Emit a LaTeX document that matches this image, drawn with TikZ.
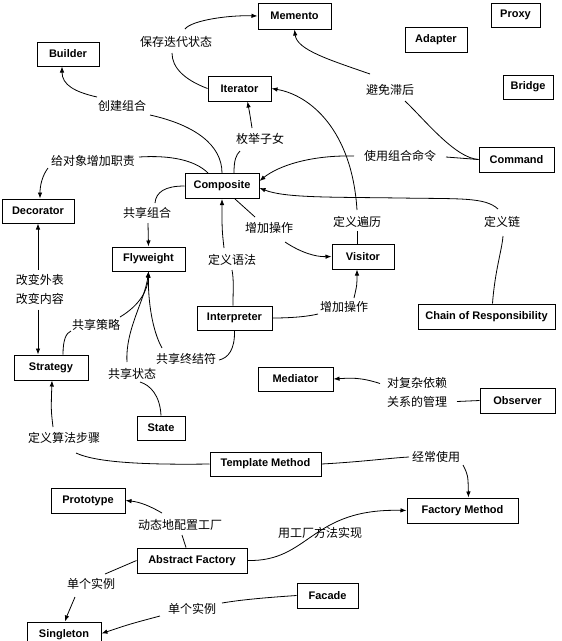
\documentclass[tikz,border=0pt]{standalone}
\usepackage{fontspec}
\newfontfamily\boxfont{Liberation Sans}
\newfontfamily\cjk{Noto Sans CJK SC}
\usetikzlibrary{arrows.meta,calc}
\tikzset{
  box/.style={draw, line width=1pt, minimum height=25pt, inner sep=1pt,
    font=\boxfont\bfseries\fontsize{11}{13}\selectfont},
  lbl/.style={font=\cjk\fontsize{12}{19}\selectfont, inner sep=1pt, align=center},
  con/.style={line width=0.8pt},
  arr/.style={con, -{Latex[length=6pt,width=4.5pt]}}
}
\begin{document}
\begin{tikzpicture}[x=1pt,y=-1pt]
\useasboundingbox (0,0) rectangle (562,641);
% boxes
\node[box, minimum width=73pt, minimum height=26pt] (Memento) at (294.5,16) {Memento};
\node[box, minimum width=49pt, minimum height=24pt] (Proxy) at (515.5,15) {Proxy};
\node[box, minimum width=62pt] (Adapter) at (436,39.5) {Adapter};
\node[box, minimum width=50pt, minimum height=24pt] (Bridge) at (528,87) {Bridge};
\node[box, minimum width=75pt] (Command) at (516.5,159.5) {Command};
\node[box, minimum width=62pt, minimum height=24pt] (Builder) at (68,54) {Builder};
\node[box, minimum width=63pt] (Iterator) at (239.5,88.5) {Iterator};
\node[box, minimum width=74pt] (Composite) at (222,186) {Composite};
\node[box, minimum width=72pt, minimum height=24pt] (Decorator) at (38,211) {Decorator};
\node[box, minimum width=73pt, minimum height=24pt] (Flyweight) at (148.5,259) {Flyweight};
\node[box, minimum width=75pt, minimum height=24pt] (Interpreter) at (234.5,318) {Interpreter};
\node[box, minimum width=74pt] (Strategy) at (51,367.5) {Strategy};
\node[box, minimum width=48pt, minimum height=24pt] (State) at (161,428) {State};
\node[box, minimum width=62pt] (Visitor) at (363,256.5) {Visitor};
\node[box, minimum width=137pt] (CoR) at (486.5,316.5) {Chain of Responsibility};
\node[box, minimum width=75pt, minimum height=24pt] (Mediator) at (295.5,379) {Mediator};
\node[box, minimum width=75pt] (Observer) at (517.5,400.5) {Observer};
\node[box, minimum width=111pt, minimum height=24pt] (Template) at (265.5,464) {Template Method};
\node[box, minimum width=74pt] (Prototype) at (88,500.5) {Prototype};
\node[box, minimum width=111pt] (FM) at (462.5,510.5) {Factory Method};
\node[box, minimum width=110pt] (AF) at (192,560.5) {Abstract Factory};
\node[box, minimum width=61pt] (Facade) at (327.5,595.5) {Facade};
\node[box, minimum width=74pt] (Singleton) at (64,634.5) {Singleton};
% labels
\node[lbl] (lsave) at (176,42) {保存迭代状态};
\node[lbl] (lbuild) at (122,106) {创建组合};
\node[lbl] (lenum) at (260,139) {枚举子女};
\node[lbl] (ldeco) at (93,161) {给对象增加职责};
\node[lbl] (lshare) at (147,213) {共享组合};
\node[lbl] (lchg) at (40,289.5) {改变外表\\改变内容};
\node[lbl] (lgram) at (232,260) {定义语法};
\node[lbl] (lstrat) at (96,325) {共享策略};
\node[lbl] (lterm) at (186,359) {共享终结符};
\node[lbl] (lstate) at (132,374) {共享状态};
\node[lbl] (lalgo) at (64,438) {定义算法步骤};
\node[lbl] (ladd1) at (269,228) {增加操作};
\node[lbl] (ltrav) at (357,222) {定义遍历};
\node[lbl] (ladd2) at (344,307) {增加操作};
\node[lbl] (lavoid) at (390,90) {避免滞后};
\node[lbl] (lcmd) at (400,156) {使用组合命令};
\node[lbl] (lchain) at (502,222) {定义链};
\node[lbl] (lobs) at (417,392.5) {对复杂依赖\\关系的管理};
\node[lbl] (loften) at (436,457) {经常使用};
\node[lbl] (ldyn) at (180,525) {动态地配置工厂};
\node[lbl] (lfm) at (320,533) {用工厂方法实现};
\node[lbl] (lsing1) at (91,584) {单个实例};
\node[lbl] (lsing2) at (192,609) {单个实例};
% connectors
% Iterator -> Memento
\draw[con] (Iterator.west) .. controls (185,80) and (172,68) .. ($(lsave)+(-4,11)$);
\draw[arr] ($(lsave)+(9,-13)$) .. controls (192,20) and (230,15) .. (Memento.west);
% Composite -> Builder
\draw[con] (Composite.north) .. controls (222,145) and (195,125) .. ($(lbuild)+(28,9)$);
\draw[arr] ($(lbuild)+(-25,-9)$) .. controls (75,92) and (62,85) .. ([xshift=-6pt]Builder.south);
% Composite -> Iterator
\draw[con] ([xshift=12pt]Composite.north) .. controls (234,160) and (236,155) .. ($(lenum)+(-20,12)$);
\draw[arr] ($(lenum)+(-8,-11)$) .. controls (250,115) .. ([xshift=8pt]Iterator.south);
% Composite -> Decorator
\draw[con] ([xshift=-14pt]Composite.north) .. controls (195,160) and (170,155) .. ($(ldeco)+(46,-4)$);
\draw[arr] ($(ldeco)+(-45,7)$) .. controls (42,176) and (40,186) .. ([xshift=2pt]Decorator.north);
% Composite -> Flyweight
\draw[con] (Composite.west) .. controls (165,186) and (156,192) .. ($(lshare)+(8,-10)$);
\draw[arr] ($(lshare)+(1,10)$) -- (Flyweight.north);
% Interpreter -> Composite
\draw[con] ([xshift=-1.5pt]Interpreter.north) .. controls (233,290) and (234,280) .. ($(lgram)+(0,10)$);
\draw[arr] ($(lgram)+(-8,-12)$) .. controls (222,230) .. (Composite.south);
% Composite -> Visitor
\draw[con] ([xshift=13pt]Composite.south) -- ($(ladd1)+(-14,-11)$);
\draw[arr] ($(ladd1)+(16,14)$) .. controls (300,252) and (315,257) .. (Visitor.west);
% Visitor -> Iterator
\draw[con] ([xshift=-6pt]Visitor.north) -- ($(ltrav)+(0,9)$);
\draw[arr] ($(ltrav)+(0,-12)$) .. controls (352,130) and (310,95) .. (Iterator.east);
% Interpreter -> Visitor
\draw[con] (Interpreter.east) .. controls (295,318) and (310,316) .. ($(ladd2)+(-26,7)$);
\draw[arr] ($(ladd2)+(10,-9)$) .. controls (357,285) .. ([xshift=-6pt]Visitor.south);
% Command -> Memento
\draw[con] (Command.west) .. controls (455,158) and (425,120) .. ($(lavoid)+(15,11)$);
\draw[arr] ($(lavoid)+(-20,-16)$) .. controls (330,60) and (297,50) .. (Memento.south);
% Command -> Composite
\draw[con] (Command.west) -- ($(lcmd)+(46,1)$);
\draw[arr] ($(lcmd)+(-46,0)$) .. controls (310,155) and (278,166) .. ([yshift=5pt]Composite.east);
% CoR -> Composite
\draw[con] ([xshift=6pt]CoR.north) .. controls (495,270) and (502,250) .. ($(lchain)+(1,14)$);
\draw[arr] ($(lchain)+(-4,-13)$) .. controls (485,197) and (460,199) .. (400,198) .. controls (330,197) and (285,198) .. ([yshift=-2pt]Composite.east);
% Strategy -> Flyweight
\draw[con] ([xshift=12pt]Strategy.north) .. controls (63,340) and (66,333) .. ($(lstrat)+(-25,6)$);
\draw[arr] ($(lstrat)+(24,-8)$) .. controls (140,305) and (148,290) .. (Flyweight.south);
% State -> Flyweight
\draw[con] (State.north) .. controls (160,395) and (150,385) .. ($(lstate)+(8,8)$);
\draw[arr] ($(lstate)+(-5,-12)$) .. controls (125,330) and (145,300) .. (Flyweight.south);
% Interpreter -> Flyweight
\draw[con] (Interpreter.south) .. controls (235,350) and (228,358) .. ($(lterm)+(33,1)$);
\draw[arr] ($(lterm)+(-24,-11)$) .. controls (152,330) and (148,300) .. (Flyweight.south);
% Decorator <-> Strategy
\draw[arr] ($(lchg)+(-2,-20)$) -- (Decorator.south);
\draw[arr] ($(lchg)+(-2,20)$) -- ([xshift=-13pt]Strategy.north);
% Template -> Strategy
\draw[con] (Template.west) .. controls (140,465) and (95,462) .. ($(lalgo)+(12,15)$);
\draw[arr] ($(lalgo)+(-11,-11)$) .. controls (51,410) .. ([xshift=1pt]Strategy.south);
% Template -> Factory Method
\draw[con] (Template.east) .. controls (360,462) and (390,458) .. ($(loften)+(-27,0)$);
\draw[arr] ($(loften)+(27,8)$) .. controls (468,475) .. ([xshift=6pt]FM.north);
% Abstract Factory -> Prototype
\draw[con] ([xshift=-6pt]AF.north) -- ($(ldyn)+(2,10)$);
\draw[arr] ($(ldyn)+(-18,-12)$) .. controls (150,506) and (140,502) .. (Prototype.east);
% Abstract Factory -> Factory Method
\draw[arr] (AF.east) .. controls (310,562) and (310,508) .. (FM.west);
% Abstract Factory -> Singleton
\draw[con] (AF.west) -- ($(lsing1)+(14,-10)$);
\draw[arr] ($(lsing1)+(-16,13)$) .. controls (70,607) .. ([xshift=1pt]Singleton.north);
% Facade -> Singleton
\draw[con] (Facade.west) .. controls (260,598) and (240,600) .. ($(lsing2)+(30,-6)$);
\draw[arr] ($(lsing2)+(-32,7)$) .. controls (130,624) .. ([yshift=1pt]Singleton.east);
% Observer -> Mediator
\draw[con] (Observer.west) -- ($(lobs)+(40,9)$);
\draw[arr] ($(lobs)+(-37,-9)$) .. controls (360,377) and (350,378) .. (Mediator.east);
\end{tikzpicture}
\end{document}
